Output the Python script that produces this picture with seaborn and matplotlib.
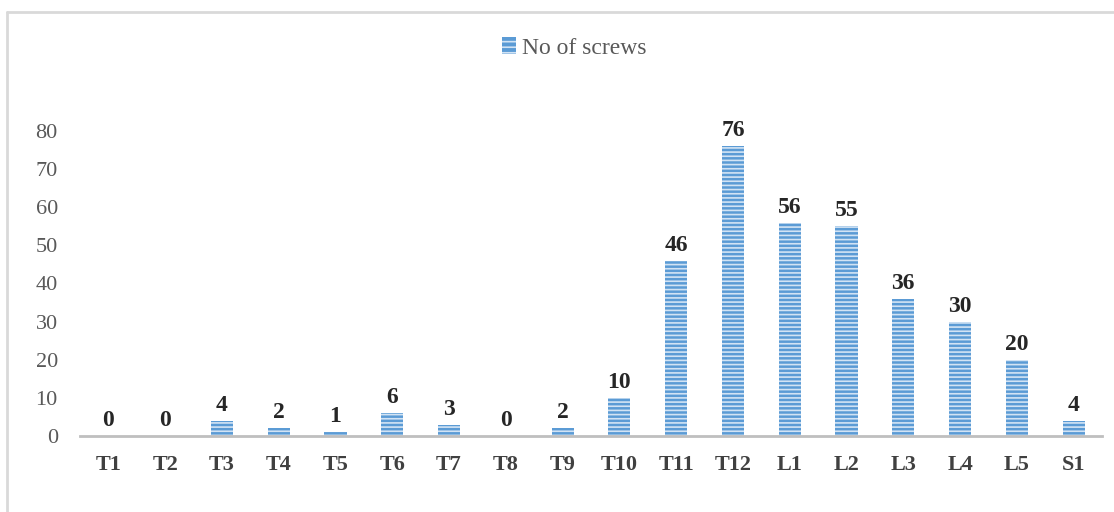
import matplotlib
matplotlib.use("Agg")
import matplotlib.pyplot as plt
import seaborn as sns
import pandas as pd
from matplotlib.patches import Patch
from matplotlib.lines import Line2D

levels = ["T1", "T2", "T3", "T4", "T5", "T6", "T7", "T8", "T9", "T10",
          "T11", "T12", "L1", "L2", "L3", "L4", "L5", "S1"]
screws = [0, 0, 4, 2, 1, 6, 3, 0, 2, 10, 46, 76, 56, 55, 36, 30, 20, 4]
y_ticks = [0, 10, 20, 30, 40, 50, 60, 70, 80]

sns.set_theme(style="white")
plt.rcParams["font.family"] = ["Liberation Serif", "DejaVu Serif"]
stripe = "#d2e3f4"
plt.rcParams["hatch.color"] = stripe
plt.rcParams["hatch.linewidth"] = 1.2

df = pd.DataFrame({"level": levels, "screws": screws})

W, H = 1114, 512
fig = plt.figure(figsize=(W / 100, H / 100), dpi=100)
ax = fig.add_axes([80 / W, 1 - 436 / H, 1022 / W, 305 / H])

# chart-area frame (left and top edges)
frame_kw = dict(color="#d9d9d9", linewidth=2, transform=fig.transFigure)
fig.add_artist(Line2D([7 / W, 7 / W], [0, 1 - 12 / H], **frame_kw))
fig.add_artist(Line2D([7 / W, 1], [1 - 12 / H, 1 - 12 / H], **frame_kw))

bar_color = "#5b9bd5"
sns.barplot(data=df, x="level", y="screws", ax=ax, color=bar_color,
            width=0.39, saturation=1, order=levels)
for p in ax.patches:
    p.set_hatch("----")
    p.set_edgecolor(stripe)
    p.set_linewidth(0)

for i, v in enumerate(screws):
    ax.text(i, v + 1.3, str(v), ha="center", va="bottom",
            fontsize=17, fontweight="bold", color="#262626")

ax.set_ylim(0, 80)
ax.set_xlim(-0.5, len(levels) - 0.5)
ax.set_yticks(y_ticks)
ax.set_yticklabels([str(t) for t in y_ticks], fontsize=16, color="#595959")
ax.set_xticks(range(len(levels)))
ax.set_xticklabels(levels, fontsize=16, fontweight="bold", color="#404040")
ax.tick_params(axis="both", length=0)
ax.tick_params(axis="x", pad=14)
ax.tick_params(axis="y", pad=16)
ax.set_xlabel("")
ax.set_ylabel("")
for side in ["top", "right", "left"]:
    ax.spines[side].set_visible(False)
ax.spines["bottom"].set_color("#bfbfbf")
ax.spines["bottom"].set_linewidth(2)
ax.grid(False)

handle = Patch(facecolor=bar_color, edgecolor=stripe, hatch="---", linewidth=0)
fig.legend(handles=[handle], labels=["No of screws"], loc="center",
           bbox_to_anchor=(574 / W, 1 - 48 / H), frameon=False,
           fontsize=17, handlelength=0.6, handleheight=0.7, handletextpad=0.25,
           labelcolor="#595959")

fig.savefig("out.png", dpi=100)
